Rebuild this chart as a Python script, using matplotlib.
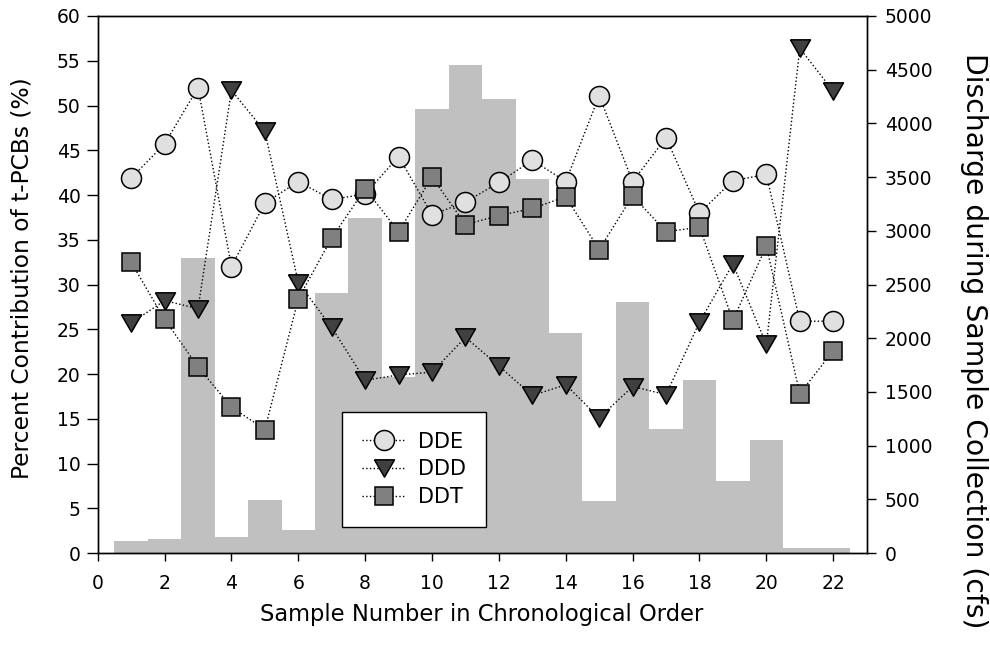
import numpy as np
import matplotlib
matplotlib.use("Agg")
import matplotlib.pyplot as plt

plt.rcParams['font.family'] = ['DejaVu Sans']

# sample number along the x axis
samples = np.arange(1, 23)

# percent contribution of each compound to t-PCBs
dde = [41.9, 45.7, 52.0, 32.0, 39.1, 41.5, 39.5, 40.1, 44.3, 37.8, 39.2,
       41.4, 43.9, 41.5, 51.1, 41.5, 46.4, 38.0, 41.6, 42.3, 25.9, 25.9]
ddd = [25.7, 28.2, 27.3, 51.7, 47.1, 30.2, 25.2, 19.3, 19.9, 20.2, 24.1,
       20.9, 17.6, 18.8, 15.1, 18.6, 17.7, 25.8, 32.3, 23.3, 56.4, 51.6]
ddt = [32.5, 26.1, 20.8, 16.3, 13.8, 28.4, 35.2, 40.7, 35.9, 42.0, 36.7,
       37.7, 38.5, 39.8, 33.9, 39.9, 35.9, 36.4, 26.0, 34.3, 17.8, 22.6]

# discharge during sample collection (cfs)
discharge = [112, 130, 2750, 150, 490, 215, 2420, 3120, 1635, 4135, 4540,
             4225, 3485, 2050, 487, 2340, 1155, 1615, 675, 1050, 45, 45]

fig, ax = plt.subplots(figsize=(9.9, 6.45), dpi=100)
fig.subplots_adjust(left=0.0987, right=0.8754, bottom=0.1426, top=0.9752)
ax2 = ax.twinx()

# discharge bars sit behind the points
ax2.bar(samples, discharge, width=1.0, color="#c0c0c0", edgecolor="none")
ax.set_zorder(ax2.get_zorder() + 1)
ax.patch.set_visible(False)

tri = [(-1, 0.866), (1, 0.866), (0, -0.866), (-1, 0.866)]
ax.plot(samples, dde, linestyle=":", color="black", lw=1, marker="o", ms=14.4,
        mfc="#e0e0e0", mec="black", mew=1.1, label="DDE")
ax.plot(samples, ddd, linestyle=":", color="black", lw=1, marker=tri, ms=14.4,
        mfc="#404040", mec="black", mew=1.1, label="DDD")
ax.plot(samples, ddt, linestyle=":", color="black", lw=1, marker="s", ms=12.7,
        mfc="#808080", mec="black", mew=1.1, label="DDT")

ax.set_xlim(0, 23)
ax.set_ylim(0, 60)
ax2.set_ylim(0, 5000)
ax.set_xticks(np.arange(0, 23, 2))
ax.set_yticks(np.arange(0, 61, 5))
ax2.set_yticks(np.arange(0, 5001, 500))

ax.tick_params(axis="x", direction="out", length=5.8, width=1, pad=9.5,
               labelsize=13.5)
ax.tick_params(axis="y", direction="out", length=7.7, width=1, pad=4.5,
               labelsize=13.5)
ax2.tick_params(axis="y", direction="out", length=6.5, width=1, pad=6.5,
                labelsize=13.5)
for a in (ax, ax2):
    for s in a.spines.values():
        s.set_linewidth(1)

ax.set_xlabel("Sample Number in Chronological Order", fontsize=16.3, va="top")
ax.xaxis.set_label_coords(0.5, -0.0935)
ax.set_ylabel("Percent Contribution of t-PCBs (%)", fontsize=16.8,
              va="baseline")
ax.yaxis.set_label_coords(-0.0906, 0.511)
ax2.set_ylabel("Discharge during Sample Collection (cfs)", fontsize=20.3,
               rotation=270, va="baseline")
ax2.yaxis.set_label_coords(1.129, 0.395)

leg = ax.legend(loc="upper left", bbox_to_anchor=(0.318, 0.263), fontsize=15,
                frameon=True, fancybox=False, framealpha=1, edgecolor="black",
                handlelength=2.1, handletextpad=0.6, labelspacing=0.37,
                borderpad=0.95, borderaxespad=0)
leg.get_frame().set_linewidth(1)

fig.savefig("out.png", dpi=100)
